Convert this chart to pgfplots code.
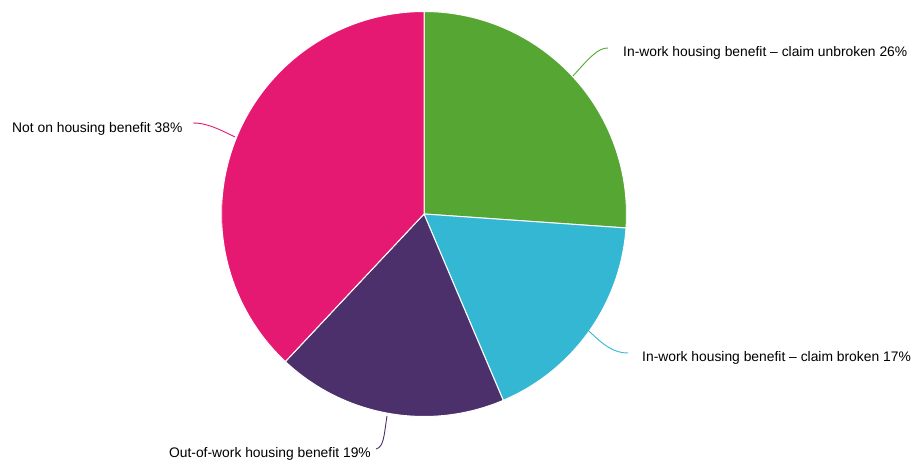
\documentclass[border=0pt]{standalone}
\usepackage{pgfplots}
\pgfplotsset{compat=1.18}
\usepackage{fontspec}
\setmainfont{Liberation Sans}

\definecolor{pgreen}{RGB}{86,166,52}
\definecolor{pcyan}{RGB}{52,183,210}
\definecolor{ppurple}{RGB}{76,48,107}
\definecolor{ppink}{RGB}{230,25,114}

% one wedge: #1 share before it (%), #2 its share (%), #3 colour
% slices run clockwise from 12 o'clock
\newcommand{\slice}[3]{%
  \addplot[fill=#3, draw=white, line width=1pt, domain={90-3.6*(#1+#2)}:{90-3.6*#1}, samples=90]
    ({cos(x)},{sin(x)}) -- (0,0) -- cycle;
}

\begin{document}
\begin{tikzpicture}[x=1pt,y=1pt]
\path[use as bounding box] (0,0) rectangle (919,465);
\begin{axis}[
    at={(424pt,251pt)}, anchor=center,
    width=405pt, height=405pt,
    scale only axis, hide axis,
    xmin=-1, xmax=1, ymin=-1, ymax=1,
]
\slice{0}{26.1}{pgreen}
\slice{26.1}{17.5}{pcyan}
\slice{43.6}{18.4}{ppurple}
\slice{62.0}{38.0}{ppink}
\end{axis}

\begin{scope}[line width=0.9pt]
\draw[pgreen] (573,389) .. controls (590,408) and (598,417) .. (608,417);
\draw[pcyan] (588,135) .. controls (605,118) and (615,112) .. (628,112);
\draw[ppurple] (387,49) .. controls (384,30) and (384,18) .. (376,16);
\draw[ppink] (193,342) .. controls (205,342) and (215,338) .. (235,328);
\end{scope}

\begin{scope}[font=\fontsize{13.85}{16}\selectfont, text=black, inner sep=0pt]
\node[anchor=west] at (623,412) {In-work housing benefit -- claim unbroken 26\%};
\node[anchor=west] at (642,107) {In-work housing benefit -- claim broken 17\%};
\node[anchor=east] at (371,11) {Out-of-work housing benefit 19\%};
\node[anchor=west] at (12,336) {Not on housing benefit 38\%};
\end{scope}
\end{tikzpicture}
\end{document}
